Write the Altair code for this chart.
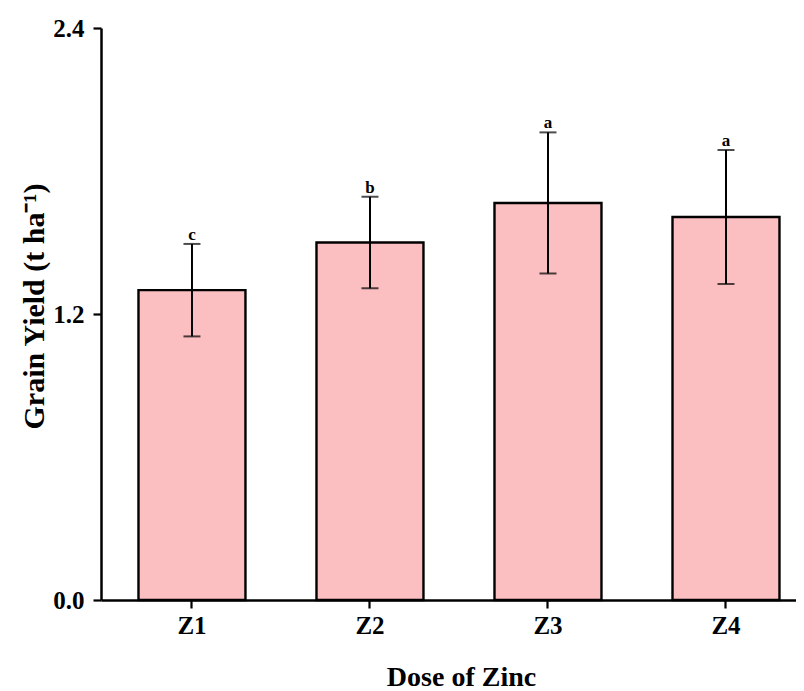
import altair as alt
import pandas as pd

doses = ["Z1", "Z2", "Z3", "Z4"]
yield_mean = [1.30, 1.50, 1.666, 1.607]
yield_err = [0.194, 0.192, 0.296, 0.281]
letters = ["c", "b", "a", "a"]

df = pd.DataFrame({
    "dose": doses,
    "mean": yield_mean,
    "err": yield_err,
    "letter": letters,
})
df["lo"] = df["mean"] - df["err"]
df["hi"] = df["mean"] + df["err"]

FONT = "Liberation Serif"

xscale = alt.Scale(domain=doses, paddingInner=0.399, paddingOuter=0.1517, align=0.694)
yscale = alt.Scale(domain=[0, 2.4], nice=False, zero=True)

x = alt.X("dose:N", scale=xscale, sort=doses,
          axis=alt.Axis(title="Dose of Zinc", labelAngle=0, titleX=360, titleY=85,
                        titleBaseline="alphabetic", titleAlign="center", titleFontSize=28))
y_axis = alt.Axis(title="Grain Yield (t ha⁻¹)", values=[0, 1.2, 2.4], format=".1f",
                  titleX=-58, titleY=278, titleBaseline="alphabetic", titleAlign="center",
                  titleAngle=-90, titleFontSize=30)

bars = alt.Chart(df).mark_bar(fill="#FCBFC1", stroke="black", strokeWidth=2.4).encode(
    x=x,
    y=alt.Y("mean:Q", scale=yscale, axis=y_axis),
)

rules = alt.Chart(df).mark_rule(color="black", strokeWidth=2).encode(
    x=alt.X("dose:N", scale=xscale, sort=doses),
    y=alt.Y("lo:Q", scale=yscale),
    y2="hi:Q",
)

caps_hi = alt.Chart(df).mark_tick(color="black", thickness=2, size=17, orient="horizontal").encode(
    x=alt.X("dose:N", scale=xscale, sort=doses),
    y=alt.Y("hi:Q", scale=yscale),
)
caps_lo = alt.Chart(df).mark_tick(color="black", thickness=2, size=17, orient="horizontal").encode(
    x=alt.X("dose:N", scale=xscale, sort=doses),
    y=alt.Y("lo:Q", scale=yscale),
)

labels = alt.Chart(df).mark_text(font=FONT, fontWeight="bold", fontSize=17, baseline="alphabetic",
                                 dy=-4, color="black").encode(
    x=alt.X("dose:N", scale=xscale, sort=doses),
    y=alt.Y("hi:Q", scale=yscale),
    text="letter:N",
)

chart = alt.layer(bars, rules, caps_hi, caps_lo, labels).properties(
    width=695,
    height=572,
    autosize=alt.AutoSizeParams(type="none"),
    padding={"left": 93, "top": 20, "right": 0, "bottom": 92},
).configure_view(stroke=None).configure_axis(
    domainColor="black", domainWidth=2.5, tickColor="black", tickWidth=2.2, tickSize=8,
    labelFont=FONT, labelFontWeight="bold", labelFontSize=25, labelColor="black",
    titleFont=FONT, titleFontWeight="bold", titleColor="black",
    grid=False,
).configure_axisX(labelPadding=5).configure_axisY(labelPadding=9)

chart.save("out.html", embed_options={"renderer": "svg", "actions": False})
